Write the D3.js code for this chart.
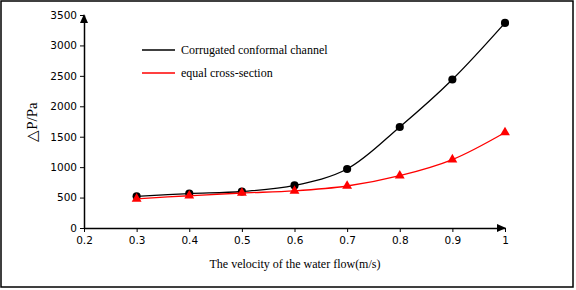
<!DOCTYPE html>
<html>
<head>
<meta charset="UTF-8">
<title>pressure drop</title>
<style>
  body { margin: 0; background: #fff; }
  .tick text { font-family: "DejaVu Sans", Verdana, sans-serif; font-size: 10.5px; fill: #000; }
  .serif { font-family: "Liberation Serif", "Times New Roman", serif; }
</style>
</head>
<body>
<script src="https://cdnjs.cloudflare.com/ajax/libs/d3/7.8.5/d3.min.js"></script>
<script>
var velocity = [0.3, 0.4, 0.5, 0.6, 0.7, 0.8, 0.9, 1.0];
var corrugated = [520, 565, 600, 700, 970, 1660, 2440, 3370];
var equalSection = [480, 530, 575, 610, 690, 860, 1125, 1570];
var xTicks = [0.2, 0.3, 0.4, 0.5, 0.6, 0.7, 0.8, 0.9, 1];
var yTicks = [0, 500, 1000, 1500, 2000, 2500, 3000, 3500];
var seriesNames = ["Corrugated conformal channel", "equal cross-section"];

var width = 576, height = 290;

var x = d3.scaleLinear().domain([0.2, 1]).range([84, 505]);
var y = d3.scaleLinear().domain([0, 3500]).range([228, 15]);

var svg = d3.select("body").append("svg")
    .attr("width", width)
    .attr("height", height);

// outer frame
svg.append("rect")
    .attr("x", 1).attr("y", 1)
    .attr("width", 572).attr("height", 286)
    .attr("fill", "none")
    .attr("stroke", "#000")
    .attr("stroke-width", 1.5);

// axes
var xAxis = d3.axisBottom(x).tickValues(xTicks).tickSize(4).tickSizeOuter(0)
    .tickFormat(function(d){ return d === 1 ? "1" : d3.format(".1f")(d); });
var yAxis = d3.axisLeft(y).tickValues(yTicks).tickSize(4).tickSizeOuter(0)
    .tickFormat(d3.format("d"));

var gx = svg.append("g")
    .attr("transform", "translate(0," + y(0) + ")")
    .call(xAxis);
gx.select(".domain").attr("stroke-width", 1.5);
gx.selectAll(".tick text").attr("dy", "0.9em");

var gy = svg.append("g")
    .attr("transform", "translate(" + x(0.2) + ",0)")
    .call(yAxis);
gy.select(".domain").attr("stroke-width", 1.5);

// arrow heads
svg.append("path")
    .attr("d", "M" + (x(1) + 1) + "," + y(0) + "l-9,-4l0,8z")
    .attr("fill", "#000");
svg.append("path")
    .attr("d", "M" + x(0.2) + "," + (y(3500) - 1) + "l-4,9l8,0z")
    .attr("fill", "#000");

var line = d3.line().curve(d3.curveCatmullRom.alpha(0.5));

function drawSeries(values, color, shape) {
    var pts = velocity.map(function(v, i){ return [x(v), y(values[i])]; });
    svg.append("path")
        .attr("d", line(pts))
        .attr("fill", "none")
        .attr("stroke", color)
        .attr("stroke-width", 1.3);
    svg.append("g").selectAll("path")
        .data(pts)
      .enter().append("path")
        .attr("transform", function(d){ return "translate(" + d[0] + "," + d[1] + ")"; })
        .attr("d", d3.symbol().type(shape).size(shape === d3.symbolCircle ? 52 : 42))
        .attr("fill", color);
}

drawSeries(corrugated, "#000", d3.symbolCircle);
drawSeries(equalSection, "#ff0000", d3.symbolTriangle);

// legend
var legend = svg.append("g");
[["#000", 50], ["#ff0000", 73]].forEach(function(c, i){
    legend.append("line")
        .attr("x1", 142).attr("x2", 175)
        .attr("y1", c[1]).attr("y2", c[1])
        .attr("stroke", c[0]).attr("stroke-width", 1.3);
    legend.append("text")
        .attr("class", "serif")
        .attr("x", 181).attr("y", c[1] + 4)
        .attr("font-size", "12px")
        .text(seriesNames[i]);
});

// axis titles
svg.append("text")
    .attr("class", "serif")
    .attr("x", 295).attr("y", 268)
    .attr("text-anchor", "middle")
    .attr("font-size", "12px")
    .text("The velocity of the water flow(m/s)");

svg.append("text")
    .attr("class", "serif")
    .attr("transform", "translate(37,122) rotate(-90)")
    .attr("text-anchor", "middle")
    .attr("font-size", "15px")
    .text("\u25B3P/Pa");
</script>
</body>
</html>
